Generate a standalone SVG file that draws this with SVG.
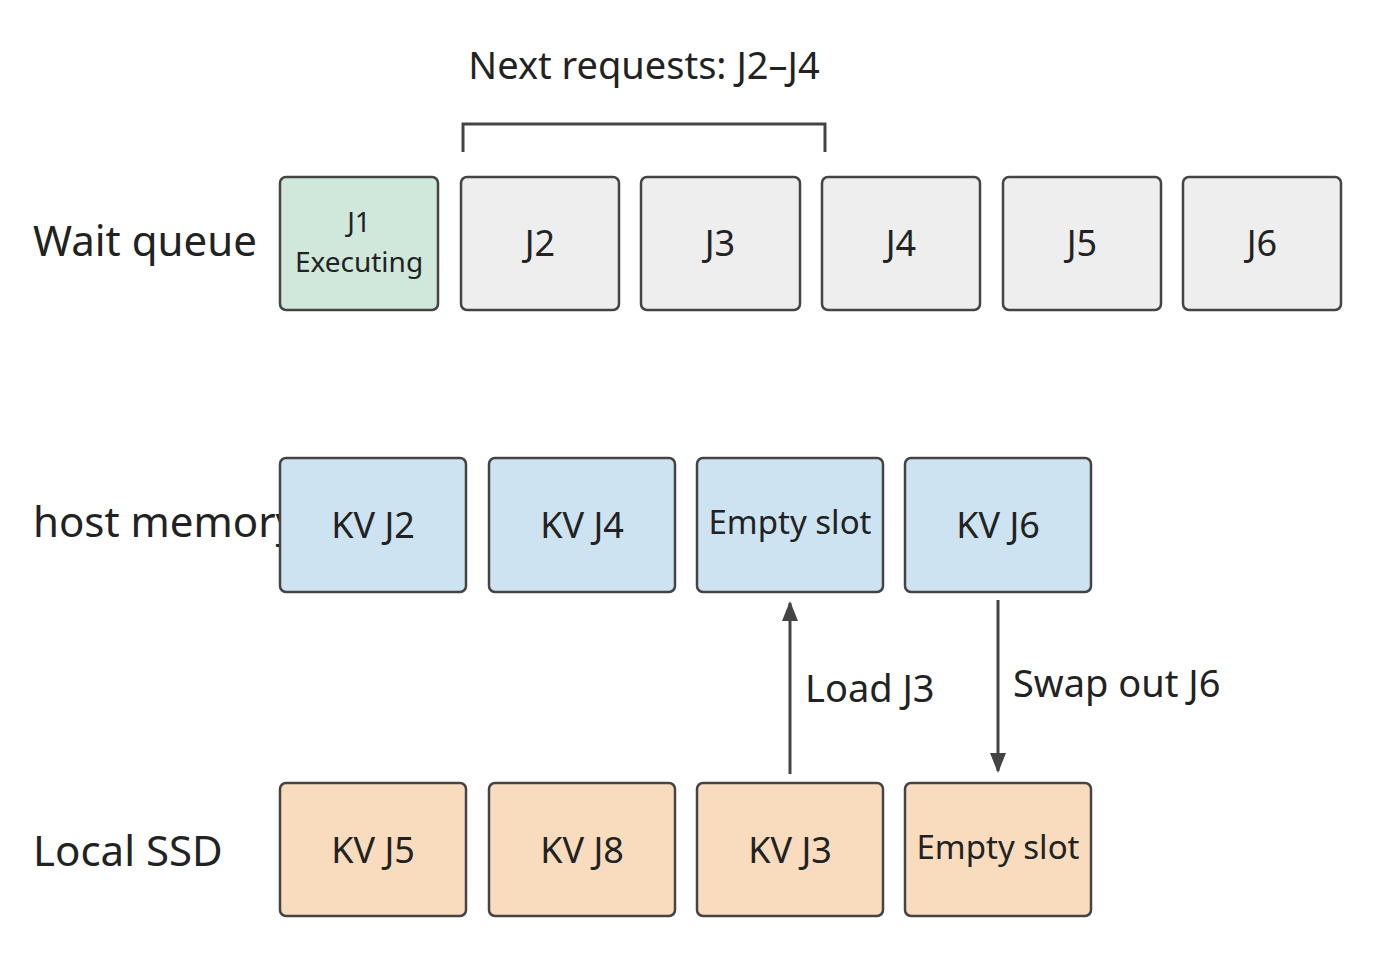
<svg xmlns="http://www.w3.org/2000/svg" width="1400" height="964" viewBox="0 0 1400 964">
<style>
text{font-family:"Noto Sans","Open Sans",sans-serif;fill:#222}
.b{stroke:#444;stroke-width:2.5}
.g{fill:#eeeeee}.gr{fill:#d0e8dc}.bl{fill:#cde3f2}.o{fill:#f8dcbd}
.t{font-size:36px;text-anchor:middle}
.l{font-size:42px}
.ln{stroke:#444;stroke-width:3;fill:none}
</style>
<defs><marker id="a" markerWidth="10" markerHeight="10" refX="8" refY="5" orient="auto" markerUnits="userSpaceOnUse"><path d="M0,0 L10,5 L0,10 z" fill="#444" transform="scale(2) translate(-4,-2.5)"/></marker>
<marker id="ah" viewBox="0 0 10 10" markerWidth="20" markerHeight="20" refX="9" refY="5" orient="auto" markerUnits="userSpaceOnUse"><path d="M0,1 L10,5 L0,9 z" fill="#444"/></marker></defs>
<g id="labels">
<text x="33" y="256" class="l">Wait queue</text>
<text x="33" y="537" class="l">host memory</text>
<text x="33" y="866" class="l">Local SSD</text>
<text x="644" y="79" style="font-size:38px;text-anchor:middle">Next requests: J2–J4</text>
</g>
<g id="j1"><rect x="280" y="177" width="158" height="133" rx="6" class="b gr"/><text x="359" y="232" style="font-size:28px;text-anchor:middle">J1</text><text x="359" y="272" style="font-size:28px;text-anchor:middle">Executing</text></g>
<g id="j2"><rect x="461" y="177" width="158" height="133" rx="6" class="b g"/><text x="540" y="256" class="t">J2</text></g>
<g id="j3"><rect x="641" y="177" width="159" height="133" rx="6" class="b g"/><text x="720" y="256" class="t">J3</text></g>
<g id="j4"><rect x="822" y="177" width="158" height="133" rx="6" class="b g"/><text x="901" y="256" class="t">J4</text></g>
<g id="j5"><rect x="1003" y="177" width="158" height="133" rx="6" class="b g"/><text x="1082" y="256" class="t">J5</text></g>
<g id="j6"><rect x="1183" y="177" width="158" height="133" rx="6" class="b g"/><text x="1262" y="256" class="t">J6</text></g>
<g id="h1"><rect x="280" y="458" width="186" height="134" rx="6" class="b bl"/><text x="373" y="538" class="t">KV J2</text></g>
<g id="h2"><rect x="489" y="458" width="186" height="134" rx="6" class="b bl"/><text x="582" y="538" class="t">KV J4</text></g>
<g id="h3"><rect x="697" y="458" width="186" height="134" rx="6" class="b bl"/><text x="790" y="534" style="font-size:33px;text-anchor:middle">Empty slot</text></g>
<g id="h4"><rect x="905" y="458" width="186" height="134" rx="6" class="b bl"/><text x="998" y="538" class="t">KV J6</text></g>
<g id="s1"><rect x="280" y="783" width="186" height="133" rx="6" class="b o"/><text x="373" y="863" class="t">KV J5</text></g>
<g id="s2"><rect x="489" y="783" width="186" height="133" rx="6" class="b o"/><text x="582" y="863" class="t">KV J8</text></g>
<g id="s3"><rect x="697" y="783" width="186" height="133" rx="6" class="b o"/><text x="790" y="863" class="t">KV J3</text></g>
<g id="s4"><rect x="905" y="783" width="186" height="133" rx="6" class="b o"/><text x="998" y="859" style="font-size:33px;text-anchor:middle">Empty slot</text></g>
<g id="connectors">
<path d="M463,152 V124 H825 V152" class="ln"/>
<path d="M790,774 V603" class="ln" marker-end="url(#ah)"/>
<path d="M998,600 V771" class="ln" marker-end="url(#ah)"/>
<text x="805" y="702" style="font-size:38px">Load J3</text>
<text x="1013" y="697" style="font-size:38px">Swap out J6</text>
</g>
</svg>
